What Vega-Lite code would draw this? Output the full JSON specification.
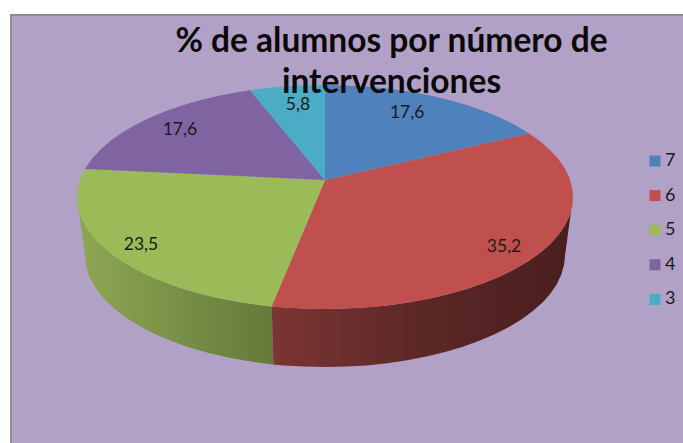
{
"$schema":"https://vega.github.io/schema/vega-lite/v6.json",
"width":683,"height":443,"padding":0,"autosize":"none","background":"white",
"title":{"text":["% de alumnos por número de","intervenciones"],"anchor":"middle","frame":"group","align":"center","baseline":"top","dx":50,"dy":100,"offset":0,"font":"Lato","fontWeight":"bold","fontSize":33.5,"lineHeight":41,"color":"#0a0a0a","zindex":1},
"config":{"view":{"stroke":null}},
"datasets":{
"panel":[{"x":-1.266,"y":-1.625,"x2":1.6,"y2":2.4}],
"sideGreen":[
{"order":1,"x":-1,"y":0},{"order":2,"x":-0.996,"y":0.087},{"order":3,"x":-0.985,"y":0.174},{"order":4,"x":-0.966,"y":0.259},{"order":5,"x":-0.94,"y":0.342},{"order":6,"x":-0.906,"y":0.423},{"order":7,"x":-0.866,"y":0.5},{"order":8,"x":-0.819,"y":0.574},{"order":9,"x":-0.766,"y":0.643},{"order":10,"x":-0.707,"y":0.707},{"order":11,"x":-0.643,"y":0.766},{"order":12,"x":-0.574,"y":0.819},{"order":13,"x":-0.5,"y":0.866},{"order":14,"x":-0.423,"y":0.906},{"order":15,"x":-0.342,"y":0.94},{"order":16,"x":-0.259,"y":0.966},{"order":17,"x":-0.215,"y":0.977},
{"order":18,"x":-0.208,"y":1.495},{"order":19,"x":-0.251,"y":1.484},{"order":20,"x":-0.331,"y":1.458},{"order":21,"x":-0.409,"y":1.424},{"order":22,"x":-0.484,"y":1.384},{"order":23,"x":-0.556,"y":1.337},{"order":24,"x":-0.622,"y":1.284},{"order":25,"x":-0.684,"y":1.225},{"order":26,"x":-0.742,"y":1.161},{"order":27,"x":-0.793,"y":1.092},{"order":28,"x":-0.838,"y":1.018},{"order":29,"x":-0.877,"y":0.941},{"order":30,"x":-0.91,"y":0.86},{"order":31,"x":-0.935,"y":0.777},{"order":32,"x":-0.953,"y":0.692},{"order":33,"x":-0.964,"y":0.605},{"order":34,"x":-0.968,"y":0.518}],
"sideRed":[
{"order":1,"x":1,"y":0},{"order":2,"x":0.996,"y":0.087},{"order":3,"x":0.985,"y":0.174},{"order":4,"x":0.966,"y":0.259},{"order":5,"x":0.94,"y":0.342},{"order":6,"x":0.906,"y":0.423},{"order":7,"x":0.866,"y":0.5},{"order":8,"x":0.819,"y":0.574},{"order":9,"x":0.766,"y":0.643},{"order":10,"x":0.707,"y":0.707},{"order":11,"x":0.643,"y":0.766},{"order":12,"x":0.574,"y":0.819},{"order":13,"x":0.5,"y":0.866},{"order":14,"x":0.423,"y":0.906},{"order":15,"x":0.342,"y":0.94},{"order":16,"x":0.259,"y":0.966},{"order":17,"x":0.174,"y":0.985},{"order":18,"x":0.087,"y":0.996},{"order":19,"x":0,"y":1},{"order":20,"x":-0.087,"y":0.996},{"order":21,"x":-0.174,"y":0.985},{"order":22,"x":-0.215,"y":0.977},
{"order":23,"x":-0.208,"y":1.495},{"order":24,"x":-0.168,"y":1.503},{"order":25,"x":-0.084,"y":1.514},{"order":26,"x":0,"y":1.518},{"order":27,"x":0.084,"y":1.514},{"order":28,"x":0.168,"y":1.503},{"order":29,"x":0.251,"y":1.484},{"order":30,"x":0.331,"y":1.458},{"order":31,"x":0.409,"y":1.424},{"order":32,"x":0.484,"y":1.384},{"order":33,"x":0.556,"y":1.337},{"order":34,"x":0.622,"y":1.284},{"order":35,"x":0.684,"y":1.225},{"order":36,"x":0.742,"y":1.161},{"order":37,"x":0.793,"y":1.092},{"order":38,"x":0.838,"y":1.018},{"order":39,"x":0.877,"y":0.941},{"order":40,"x":0.91,"y":0.86},{"order":41,"x":0.935,"y":0.777},{"order":42,"x":0.953,"y":0.692},{"order":43,"x":0.964,"y":0.605},{"order":44,"x":0.968,"y":0.518}],
"slices":[
{"slice":"6","order":0,"x":0,"y":-0.152},{"slice":"6","order":1,"x":0.823,"y":-0.568},{"slice":"6","order":2,"x":0.866,"y":-0.5},{"slice":"6","order":3,"x":0.906,"y":-0.423},{"slice":"6","order":4,"x":0.94,"y":-0.342},{"slice":"6","order":5,"x":0.966,"y":-0.259},{"slice":"6","order":6,"x":0.985,"y":-0.174},{"slice":"6","order":7,"x":0.996,"y":-0.087},{"slice":"6","order":8,"x":1,"y":0},{"slice":"6","order":9,"x":0.996,"y":0.087},{"slice":"6","order":10,"x":0.985,"y":0.174},{"slice":"6","order":11,"x":0.966,"y":0.259},{"slice":"6","order":12,"x":0.94,"y":0.342},{"slice":"6","order":13,"x":0.906,"y":0.423},{"slice":"6","order":14,"x":0.866,"y":0.5},{"slice":"6","order":15,"x":0.819,"y":0.574},{"slice":"6","order":16,"x":0.766,"y":0.643},{"slice":"6","order":17,"x":0.707,"y":0.707},{"slice":"6","order":18,"x":0.643,"y":0.766},{"slice":"6","order":19,"x":0.574,"y":0.819},{"slice":"6","order":20,"x":0.5,"y":0.866},{"slice":"6","order":21,"x":0.423,"y":0.906},{"slice":"6","order":22,"x":0.342,"y":0.94},{"slice":"6","order":23,"x":0.259,"y":0.966},{"slice":"6","order":24,"x":0.174,"y":0.985},{"slice":"6","order":25,"x":0.087,"y":0.996},{"slice":"6","order":26,"x":0,"y":1},{"slice":"6","order":27,"x":-0.087,"y":0.996},{"slice":"6","order":28,"x":-0.174,"y":0.985},{"slice":"6","order":29,"x":-0.215,"y":0.977},
{"slice":"5","order":0,"x":0,"y":-0.152},{"slice":"5","order":1,"x":-0.215,"y":0.977},{"slice":"5","order":2,"x":-0.259,"y":0.966},{"slice":"5","order":3,"x":-0.342,"y":0.94},{"slice":"5","order":4,"x":-0.423,"y":0.906},{"slice":"5","order":5,"x":-0.5,"y":0.866},{"slice":"5","order":6,"x":-0.574,"y":0.819},{"slice":"5","order":7,"x":-0.643,"y":0.766},{"slice":"5","order":8,"x":-0.707,"y":0.707},{"slice":"5","order":9,"x":-0.766,"y":0.643},{"slice":"5","order":10,"x":-0.819,"y":0.574},{"slice":"5","order":11,"x":-0.866,"y":0.5},{"slice":"5","order":12,"x":-0.906,"y":0.423},{"slice":"5","order":13,"x":-0.94,"y":0.342},{"slice":"5","order":14,"x":-0.966,"y":0.259},{"slice":"5","order":15,"x":-0.985,"y":0.174},{"slice":"5","order":16,"x":-0.996,"y":0.087},{"slice":"5","order":17,"x":-1,"y":0},{"slice":"5","order":18,"x":-0.996,"y":-0.087},{"slice":"5","order":19,"x":-0.985,"y":-0.174},{"slice":"5","order":20,"x":-0.968,"y":-0.25},
{"slice":"4","order":0,"x":0,"y":-0.152},{"slice":"4","order":1,"x":-0.968,"y":-0.25},{"slice":"4","order":2,"x":-0.94,"y":-0.342},{"slice":"4","order":3,"x":-0.906,"y":-0.423},{"slice":"4","order":4,"x":-0.866,"y":-0.5},{"slice":"4","order":5,"x":-0.819,"y":-0.574},{"slice":"4","order":6,"x":-0.766,"y":-0.643},{"slice":"4","order":7,"x":-0.707,"y":-0.707},{"slice":"4","order":8,"x":-0.643,"y":-0.766},{"slice":"4","order":9,"x":-0.574,"y":-0.819},{"slice":"4","order":10,"x":-0.5,"y":-0.866},{"slice":"4","order":11,"x":-0.423,"y":-0.906},{"slice":"4","order":12,"x":-0.342,"y":-0.94},{"slice":"4","order":13,"x":-0.302,"y":-0.953},
{"slice":"3","order":0,"x":0,"y":-0.152},{"slice":"3","order":1,"x":-0.302,"y":-0.953},{"slice":"3","order":2,"x":-0.259,"y":-0.966},{"slice":"3","order":3,"x":-0.174,"y":-0.985},{"slice":"3","order":4,"x":-0.087,"y":-0.996},{"slice":"3","order":5,"x":0,"y":-1},
{"slice":"7","order":0,"x":0,"y":-0.152},{"slice":"7","order":1,"x":0,"y":-1},{"slice":"7","order":2,"x":0.087,"y":-0.996},{"slice":"7","order":3,"x":0.174,"y":-0.985},{"slice":"7","order":4,"x":0.259,"y":-0.966},{"slice":"7","order":5,"x":0.342,"y":-0.94},{"slice":"7","order":6,"x":0.423,"y":-0.906},{"slice":"7","order":7,"x":0.5,"y":-0.866},{"slice":"7","order":8,"x":0.574,"y":-0.819},{"slice":"7","order":9,"x":0.643,"y":-0.766},{"slice":"7","order":10,"x":0.707,"y":-0.707},{"slice":"7","order":11,"x":0.766,"y":-0.643},{"slice":"7","order":12,"x":0.819,"y":-0.574},{"slice":"7","order":13,"x":0.823,"y":-0.568}],
"labels":[{"slice":"7","value":"17,6","x":0.331,"y":-0.75},{"slice":"6","value":"35,2","x":0.722,"y":0.446},{"slice":"5","value":"23,5","x":-0.742,"y":0.429},{"slice":"4","value":"17,6","x":-0.585,"y":-0.598},{"slice":"3","value":"5,8","x":-0.109,"y":-0.82}]
},
"encoding":{
"x":{"field":"x","type":"quantitative","axis":null,"scale":{"domain":[-1.3105,1.4435]}},
"y":{"field":"y","type":"quantitative","axis":null,"scale":{"domain":[-1.759,2.196],"reverse":true}}
},
"layer":[
{"data":{"name":"panel"},"mark":{"type":"rect","fill":"#B1A1C6","stroke":"#8C8C8C","strokeWidth":2,"clip":true},"encoding":{"x2":{"field":"x2"},"y2":{"field":"y2"}}},
{"data":{"name":"sideGreen"},"mark":{"type":"line","strokeWidth":0,"fill":{"gradient":"linear","x1":0,"x2":1,"y1":0,"y2":0,"stops":[{"offset":0,"color":"#8EA753"},{"offset":1,"color":"#647A3A"}]}},"encoding":{"order":{"field":"order","type":"quantitative"}}},
{"data":{"name":"sideRed"},"mark":{"type":"line","strokeWidth":0,"fill":{"gradient":"linear","x1":0,"x2":1,"y1":0,"y2":0,"stops":[{"offset":0,"color":"#7C3533"},{"offset":0.5,"color":"#5C2727"},{"offset":1,"color":"#4A1E1E"}]}},"encoding":{"order":{"field":"order","type":"quantitative"}}},
{"data":{"name":"slices"},"mark":{"type":"line","strokeWidth":0},"encoding":{
"fill":{"field":"slice","type":"nominal","scale":{"domain":["7","6","5","4","3"],"range":["#4F81BD","#C0504D","#9BBB59","#8064A2","#4BACC6"]},
"legend":{"title":null,"orient":"none","legendX":646,"legendY":152,"symbolType":"square","symbolSize":121,"symbolStrokeWidth":0,"labelFont":"Lato","labelFontSize":18,"labelColor":"#1a1a1a","labelOffset":1,"rowPadding":16.6,"padding":0}},
"order":{"field":"order","type":"quantitative"}}},
{"data":{"name":"labels"},"mark":{"type":"text","font":"Lato","fontSize":17.5,"color":"#1a1a1a","align":"center","baseline":"middle"},"encoding":{"text":{"field":"value","type":"nominal"}}}
]
}
